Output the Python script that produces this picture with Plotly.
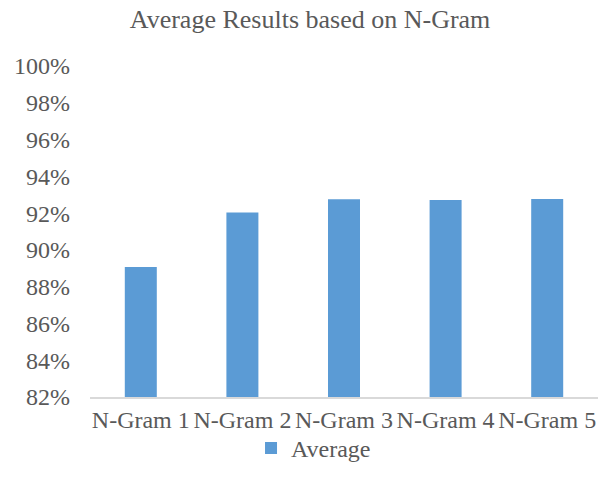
import plotly.graph_objects as go

categories = ["N-Gram 1", "N-Gram 2", "N-Gram 3", "N-Gram 4", "N-Gram 5"]
average = [0.8907, 0.9204, 0.9275, 0.9271, 0.9277]
tick_vals = [0.82, 0.84, 0.86, 0.88, 0.90, 0.92, 0.94, 0.96, 0.98, 1.00]
tick_text = ["82%", "84%", "86%", "88%", "90%", "92%", "94%", "96%", "98%", "100%"]

FONT = "Liberation Serif, Times New Roman, serif"
TEXT = "#595959"

fig = go.Figure()
fig.add_trace(go.Bar(
    x=categories, y=average, name="Average",
    marker=dict(color="#5B9BD5", line=dict(width=0)),
    width=0.315,
))

fig.update_layout(
    width=608, height=490,
    margin=dict(l=90, r=10, t=66, b=93),
    paper_bgcolor="white", plot_bgcolor="white",
    font=dict(family=FONT, color=TEXT, size=24),
    title=dict(text="Average Results based on N-Gram", x=0.51, xanchor="center",
               y=0.962, yanchor="middle", font=dict(family=FONT, size=26, color=TEXT)),
    showlegend=True,
    legend=dict(orientation="h", x=0.44, xanchor="center", y=-0.155, yanchor="middle",
                bgcolor="rgba(0,0,0,0)",
                font=dict(family=FONT, size=24, color=TEXT), itemwidth=30),
    bargap=0.685,
)
fig.update_xaxes(showline=True, linecolor="#D9D9D9", linewidth=1.5, ticks="",
                 showgrid=False, ticklabelstandoff=0,
                 tickfont=dict(family=FONT, size=24, color=TEXT))
fig.update_yaxes(range=[0.82, 1.0], tickvals=tick_vals, ticktext=tick_text,
                 showgrid=False, zeroline=False, showline=False, ticks="",
                 ticklabelstandoff=19,
                 tickfont=dict(family=FONT, size=24, color=TEXT))

fig.write_html("out.html")
